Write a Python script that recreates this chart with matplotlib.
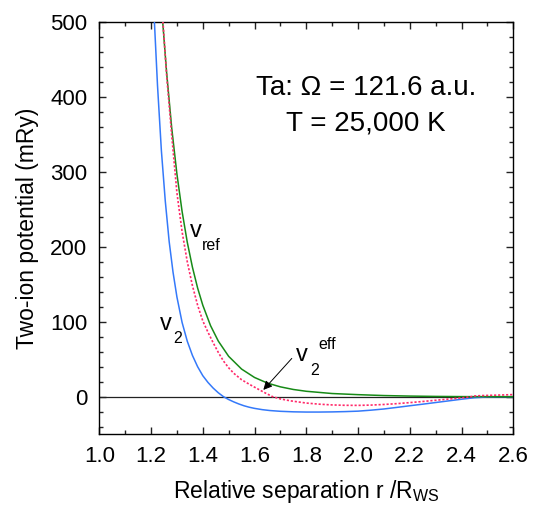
import matplotlib
matplotlib.use("Agg")
import matplotlib.pyplot as plt
from matplotlib.ticker import MultipleLocator, FormatStrFormatter

plt.rcParams["font.family"] = ["Liberation Sans", "DejaVu Sans"]
plt.rcParams["mathtext.fontset"] = "custom"
plt.rcParams["mathtext.rm"] = "Liberation Sans"

# Two-ion potential curves for Ta (separation in units of R_WS, energy in mRy)
r_v2 = [1.213, 1.225, 1.24, 1.255, 1.27, 1.285, 1.30, 1.32, 1.34, 1.36,
        1.38, 1.40, 1.42, 1.44, 1.46, 1.48, 1.50, 1.52, 1.54, 1.56,
        1.58, 1.60, 1.63, 1.66, 1.70, 1.75, 1.80, 1.85, 1.90, 1.95,
        2.0, 2.05, 2.1, 2.15, 2.2, 2.25, 2.3, 2.35, 2.4, 2.45,
        2.5, 2.55, 2.6]
v_v2 = [500, 415, 328, 261, 207, 166, 133, 99, 74, 55,
        40, 28, 19, 11.5, 5.2, 0, -3.8, -7.0, -9.8, -12.2,
        -14.1, -15.6, -17.3, -18.5, -19.5, -20.2, -20.5, -20.5, -20.3, -19.9,
        -19.3, -18.0, -16.4, -14.3, -12.1, -10.0, -7.8, -5.6, -3.4, -1.4,
        -0.4, -0.1, 0]

r_eff = [1.246, 1.26, 1.28, 1.30, 1.32, 1.34, 1.36, 1.38, 1.40, 1.42,
         1.44, 1.46, 1.48, 1.50, 1.52, 1.55, 1.58, 1.61, 1.64, 1.67,
         1.70, 1.74, 1.80, 1.85, 1.90, 1.95, 2.0, 2.05, 2.1, 2.15,
         2.2, 2.25, 2.3, 2.35, 2.4, 2.43, 2.45, 2.48, 2.52, 2.56, 2.6]
v_eff = [500, 430, 348, 272, 220, 180, 148, 122, 101, 86,
         72, 59, 47.5, 38.5, 31.1, 22.6, 16.5, 10.8, 5.2, 0,
         -3.0, -5.6, -8.5, -10.0, -11.0, -11.5, -11.6, -11.2, -10.4, -9.3,
         -7.9, -6.4, -4.8, -3.2, -1.6, -0.4, 0.9, 1.5, 1.9, 2.3, 2.8]

r_ref = [1.245, 1.26, 1.28, 1.30, 1.32, 1.34, 1.36, 1.38, 1.40, 1.43,
         1.46, 1.50, 1.55, 1.60, 1.65, 1.70, 1.75, 1.80, 1.90, 2.0,
         2.1, 2.2, 2.3, 2.4, 2.5, 2.6]
v_ref = [500, 433, 358, 297, 247, 206, 172.6, 144.9, 122, 94.7,
         74.1, 53.8, 36.8, 25.6, 18.1, 13.1, 9.6, 7.2, 4.2, 2.7,
         1.5, 0.8, 0.35, 0.1, 0, 0]

x_ticks = [1.0, 1.2, 1.4, 1.6, 1.8, 2.0, 2.2, 2.4, 2.6]
y_ticks = [0, 100, 200, 300, 400, 500]

fig = plt.figure(figsize=(5.37, 5.09), dpi=100)
ax = fig.add_axes([0.1849, 0.1470, 0.7709, 0.8104])

ax.axhline(0, color="#222222", lw=0.9, zorder=1)
ax.plot(r_v2, v_v2, color="#3479fa", lw=1.1, zorder=3)
ax.plot(r_ref, v_ref, color="#178a17", lw=1.1, zorder=3)
ax.plot(r_eff, v_eff, color="#ff2a6a", lw=1.2, ls=(0, (1.3, 1.1)), zorder=4)

ax.set_xlim(1.0, 2.6)
ax.set_ylim(-50, 500)
ax.set_xticks(x_ticks)
ax.set_yticks(y_ticks)
ax.xaxis.set_major_formatter(FormatStrFormatter("%.1f"))
ax.xaxis.set_minor_locator(MultipleLocator(0.1))
ax.yaxis.set_minor_locator(MultipleLocator(20))
ax.tick_params(which="both", direction="in", top=True, right=True,
               width=1.0, colors="#222222", labelcolor="black")
ax.tick_params(which="major", length=4.8, labelsize=16, pad=8.5)
ax.tick_params(which="minor", length=2.6)
for s in ax.spines.values():
    s.set_linewidth(1.0)

ax.set_xlabel(r"Relative separation r /R$_{\mathregular{WS}}$", fontsize=16.5, labelpad=8)
ax.set_ylabel("Two-ion potential (mRy)", fontsize=16.5, labelpad=8)

ax.text(2.03, 411, "Ta: Ω = 121.6 a.u.", fontsize=20, ha="center", va="center")
ax.text(2.03, 364, "T = 25,000 K", fontsize=20, ha="center", va="center")

# curve labels
ax.text(1.351, 213, "v", fontsize=17, ha="left", va="baseline")
ax.text(1.397, 196, "ref", fontsize=11.5, ha="left", va="baseline")
ax.text(1.235, 89, "v", fontsize=17, ha="left", va="baseline")
ax.text(1.285, 72, "2", fontsize=11.5, ha="left", va="baseline")
ax.text(1.760, 48, "v", fontsize=17, ha="left", va="baseline")
ax.text(1.814, 29, "2", fontsize=11.5, ha="left", va="baseline")
ax.text(1.845, 64, "eff", fontsize=11.5, ha="left", va="baseline")

ax.annotate("", xy=(1.634, 9), xytext=(1.744, 51),
            arrowprops=dict(arrowstyle="-|>", lw=0.7, color="black",
                            mutation_scale=13, shrinkA=0, shrinkB=0),
            zorder=5)

fig.savefig("out.png", dpi=100)
